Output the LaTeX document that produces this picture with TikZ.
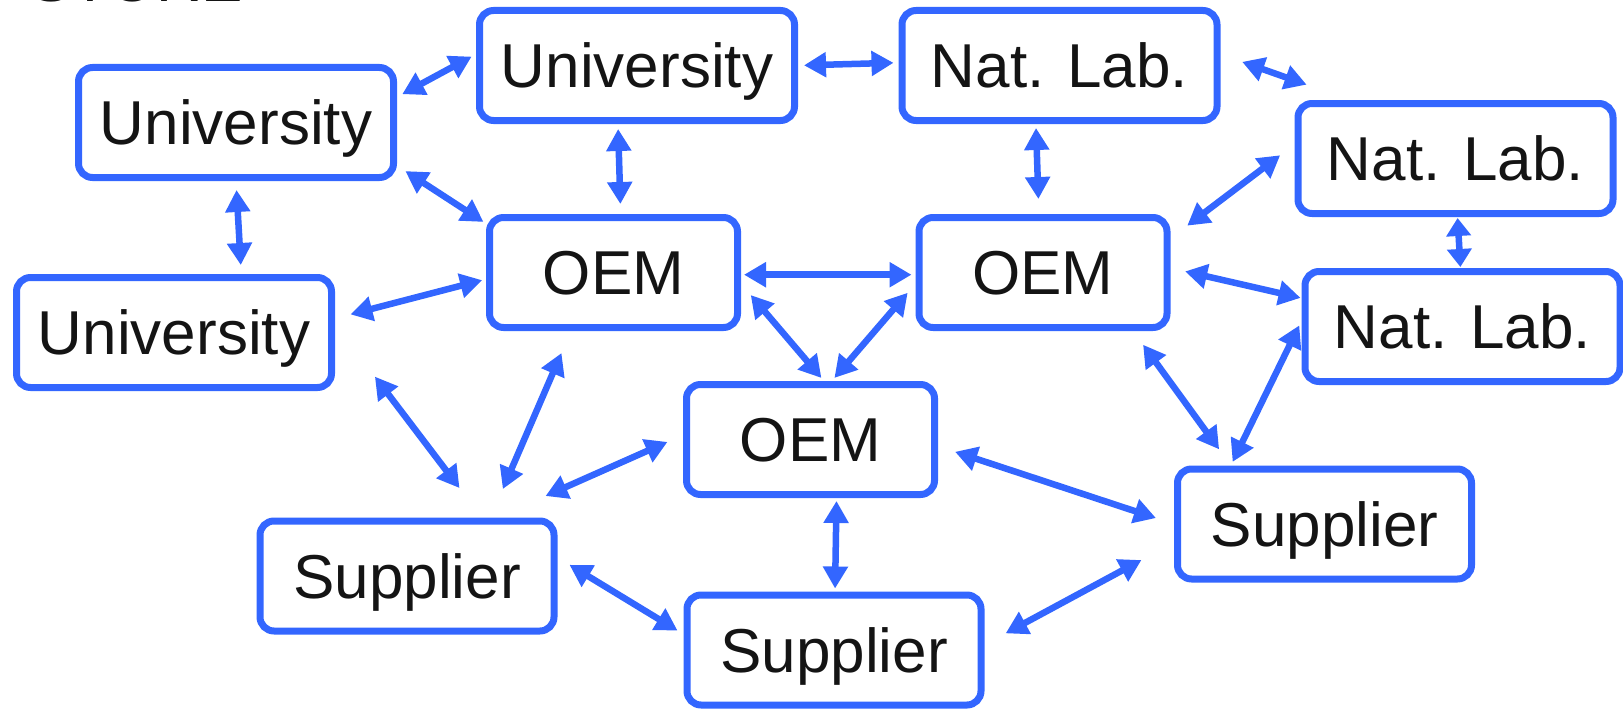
\documentclass[tikz,border=0pt]{standalone}
\usepackage{fontspec}
\setmainfont{Liberation Sans}
\usetikzlibrary{arrows.meta}
\definecolor{linkblue}{RGB}{51,102,255}
\definecolor{txt}{RGB}{20,20,20}

\begin{document}
\begin{tikzpicture}[x=1pt, y=-1pt, >={Triangle[length=22pt,width=24pt]}]
\useasboundingbox (0,0) rectangle (1623,709);
\node[anchor=base west, inner sep=0pt, text=txt, font=\fontsize{62}{70}\selectfont] (title) at (30,1.5) {STORE};
\begin{scope}[every node/.style={draw=linkblue, line width=7pt, rounded corners=14pt, fill=white, text=txt, font=\fontsize{62}{70}\selectfont, inner sep=0pt, text height=44pt, text depth=0pt, minimum height=110pt}]
    \node[minimum width=315pt] (u1) at (236,122.5) {University};
    \node[minimum width=315pt] (u2) at (637,65.5) {University};
    \node[minimum width=315pt] (u3) at (174,332.5) {University};
    \node[minimum width=315pt] (n1) at (1059.5,65.5) {Nat. Lab.};
    \node[minimum width=315pt] (n2) at (1455.5,158.5) {Nat. Lab.};
    \node[minimum width=315pt] (n3) at (1462.5,326.5) {Nat. Lab.};
    \node[minimum width=248pt] (o1) at (613.5,272.5) {OEM};
    \node[minimum width=248pt] (o2) at (1043,272.5) {OEM};
    \node[minimum width=248pt] (o3) at (810.5,439.5) {OEM};
    \node[minimum width=294pt] (s1) at (407,576) {Supplier};
    \node[minimum width=294pt] (s2) at (834,650) {Supplier};
    \node[minimum width=294pt] (s3) at (1324.5,524) {Supplier};
\end{scope}
\begin{scope}[every edge/.style={draw=linkblue, line width=6.5pt, <->}]
    \path (u1.9) edge[shorten <=6pt, shorten >=5pt] (u2.176);
    \path (u1.-15) edge[shorten <=10pt, shorten >=3pt] (o1.159);
    \path (u2.-108) edge[shorten <=5pt, shorten >=10pt] (o1.83);
    \path (u2.0) edge[shorten <=6pt, shorten >=5pt] (n1.179);
    \path (n1.4) edge[shorten <=23pt, shorten >=46pt] (n2.151);
    \path (n1.-112) edge[shorten <=4pt, shorten >=15pt] (o2.94);
    \path (n2.175) edge[shorten <=18pt, shorten >=21pt] (o2.15);
    \path (n2.-88) edge[arrows={Triangle[length=18pt,width=24pt]-Triangle[length=18pt,width=24pt]}, shorten <=1pt, shorten >=1pt] (n3.92);
    \path (o2.2) edge[shorten <=15pt, shorten >=1pt] (n3.170);
    \path (o1.-1) edge[shorten <=3pt, shorten >=4pt] (o2.-179);
    \path (u1.-90) edge[shorten <=9pt, shorten >=9pt] (u3.41);
    \path (u3.5) edge[shorten <=16pt, shorten >=4pt] (o1.-177);
    \path (o1.-5) edge[shorten <=15pt, shorten >=4pt] (o3.77);
    \path (o2.-175) edge[shorten <=12pt, shorten >=4pt] (o3.70);
    \path (u3.3) edge[shorten <=66pt, shorten >=37pt] (s1.38);
    \path (o1.-126) edge[shorten <=24pt, shorten >=31pt] (s1.35);
    \path (s1.33) edge[shorten <=53pt, shorten >=17pt] (o3.178);
    \path (s1.7) edge[shorten <=14pt, shorten >=7pt] (s2.174);
    \path (o3.-66) edge[shorten <=3pt, shorten >=3pt] (s2.89);
    \path (o3.-3) edge[shorten <=18pt, shorten >=19pt] (s3.180);
    \path (s2.2) edge[shorten <=24pt, shorten >=37pt] (s3.-173);
    \path (o2.-33) edge[shorten <=17pt, shorten >=20pt] (s3.148);
    \path (n3.178) edge[shorten <=5pt, shorten >=4pt] (s3.148);
\end{scope}
\end{tikzpicture}
\end{document}
